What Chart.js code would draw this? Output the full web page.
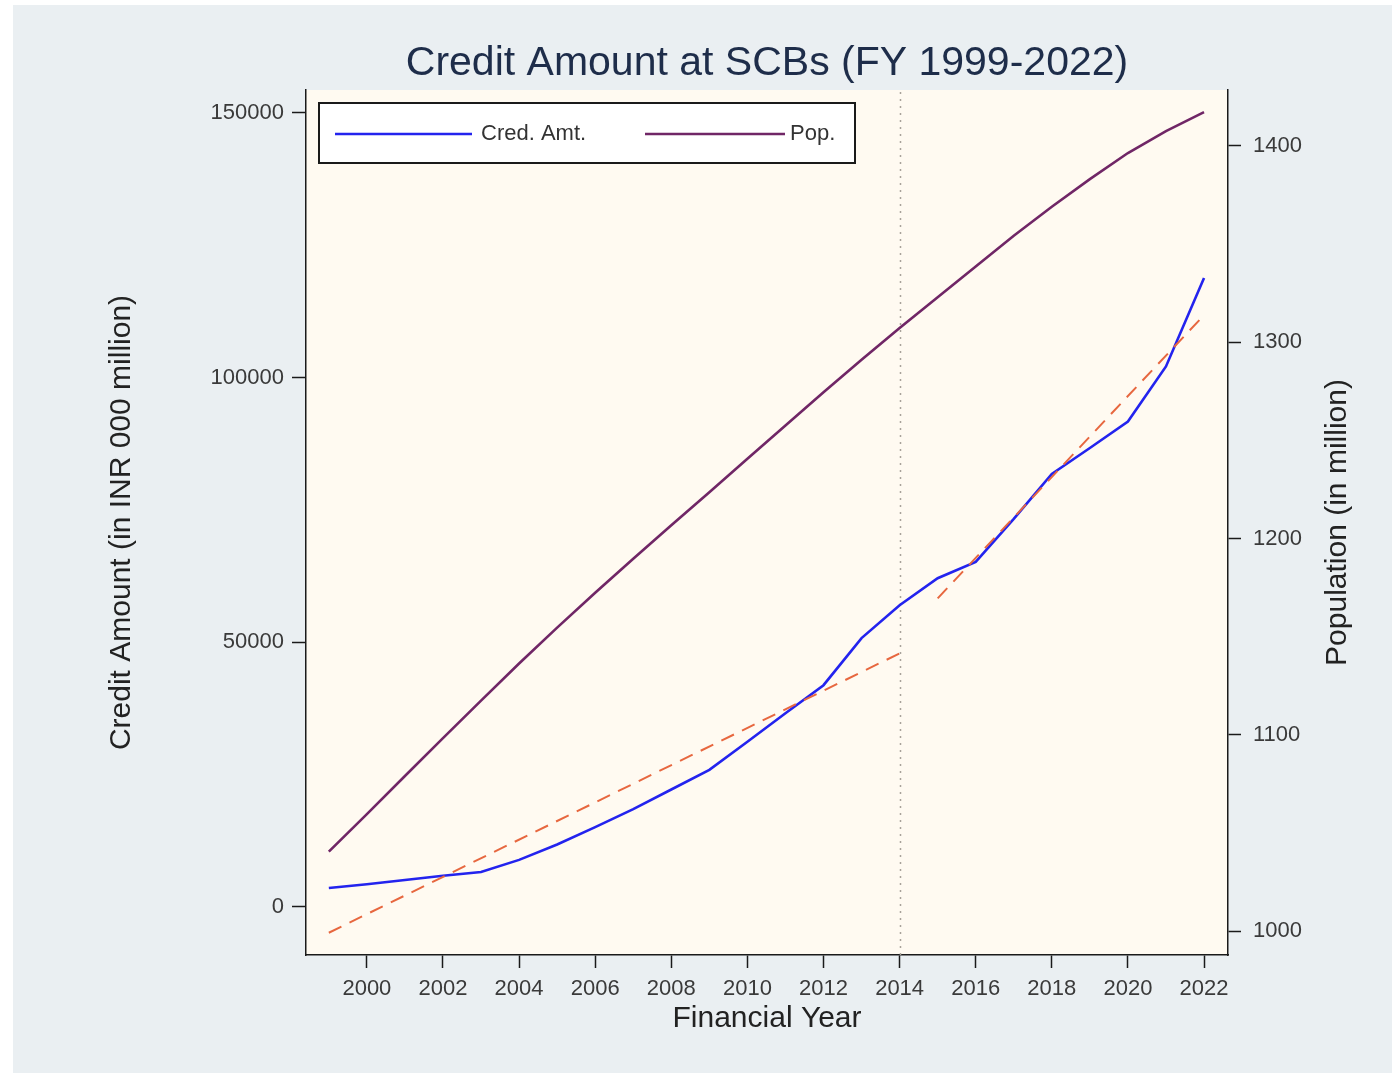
<!DOCTYPE html>
<html>
<head>
<meta charset="utf-8">
<title>Credit Amount at SCBs (FY 1999-2022)</title>
<script src="https://cdn.jsdelivr.net/npm/chart.js@4.4.1/dist/chart.umd.min.js"></script>
<style>
  html, body { margin: 0; padding: 0; background: #ffffff; }
  #wrap { width: 1392px; height: 1073px; }
  canvas { display: block; }
</style>
</head>
<body>
<div id="wrap"><canvas id="chart" width="1392" height="1073"></canvas></div>
<script>
// Financial years on the x axis
const years = [1999, 2000, 2001, 2002, 2003, 2004, 2005, 2006, 2007, 2008, 2009, 2010,
               2011, 2012, 2013, 2014, 2015, 2016, 2017, 2018, 2019, 2020, 2021, 2022];

// Credit outstanding at scheduled commercial banks (INR 000 million)
const creditAmt = [3600, 4300, 5100, 5900, 6600, 8900, 11800, 15100, 18500, 22200, 25900, 31200,
                   36600, 41900, 50800, 57000, 62100, 65200, 73300, 81800, 86700, 91700, 102100, 118800];

// Population (in million)
const population = [1040.5, 1059.6, 1079.0, 1098.3, 1117.4, 1136.3, 1154.6, 1172.4, 1189.7, 1206.7, 1223.6, 1240.6,
                    1257.6, 1274.5, 1291.1, 1307.2, 1322.9, 1338.6, 1354.2, 1369.0, 1383.1, 1396.4, 1407.6, 1417.2];

// Linear trend of credit before and after the 2014 break
const trendYearsPre = [1999, 2014];
const trendPre = [-4860, 47900];
const trendYearsPost = [2015, 2022];
const trendPost = [58300, 111800];

// Axis ticks
const yearTicks = [2000, 2002, 2004, 2006, 2008, 2010, 2012, 2014, 2016, 2018, 2020, 2022];
const creditTicks = [0, 50000, 100000, 150000];
const popTicks = [1000, 1100, 1200, 1300, 1400];

const breakYear = 2014;
const chartTitle = 'Credit Amount at SCBs (FY 1999-2022)';

const FONT = "'Liberation Sans', Arial, Helvetica, sans-serif";
Chart.defaults.font.family = FONT;

const pts = (xs, ys) => xs.map((x, i) => ({ x: x, y: ys[i] }));

// Page backdrop: outer graph region and cream plot region
const backdrop = {
  id: 'backdrop',
  beforeDraw(chart) {
    const { ctx, chartArea: a, width, height } = chart;
    ctx.save();
    ctx.fillStyle = '#ffffff';
    ctx.fillRect(0, 0, width, height);
    ctx.fillStyle = '#eaeff2';
    ctx.fillRect(13, 5, width - 13, height - 5);
    ctx.fillStyle = '#fffaf1';
    ctx.fillRect(a.left, a.top, a.right - a.left, a.bottom - a.top);
    ctx.restore();
  }
};

// Chart title, centred over the plot region
const plotTitle = {
  id: 'plotTitle',
  afterDraw(chart) {
    const { ctx, chartArea: a } = chart;
    ctx.save();
    ctx.fillStyle = '#1e2d4a';
    ctx.font = '41px ' + FONT;
    ctx.textAlign = 'center';
    ctx.textBaseline = 'middle';
    ctx.fillText(chartTitle, (a.left + a.right) / 2, 64);
    ctx.restore();
  }
};

// Dotted vertical marker at the break year
const breakLine = {
  id: 'breakLine',
  beforeDatasetsDraw(chart) {
    const { ctx, chartArea: a, scales } = chart;
    const x = Math.round(scales.x.getPixelForValue(breakYear)) + 0.5;
    ctx.save();
    ctx.strokeStyle = '#a8a29a';
    ctx.lineWidth = 1.5;
    ctx.setLineDash([2, 5]);
    ctx.beginPath();
    ctx.moveTo(x, a.top + 2);
    ctx.lineTo(x, a.bottom);
    ctx.stroke();
    ctx.restore();
  }
};

// Boxed legend inside the plot region
const boxLegend = {
  id: 'boxLegend',
  afterDraw(chart) {
    const { ctx, chartArea: a } = chart;
    const items = chart.data.datasets.filter(d => d.inLegend);
    const bx = a.left + 13, by = a.top + 13, bw = 536, bh = 60;
    ctx.save();
    ctx.fillStyle = '#ffffff';
    ctx.fillRect(bx, by, bw, bh);
    ctx.strokeStyle = '#1a1a1a';
    ctx.lineWidth = 2;
    ctx.strokeRect(bx, by, bw, bh);
    const slots = [{ x0: 16, x1: 153, tx: 162 }, { x0: 326, x1: 466, tx: 471 }];
    const cy = by + 31;
    items.forEach((d, i) => {
      const s = slots[i];
      ctx.strokeStyle = d.borderColor;
      ctx.lineWidth = 2.5;
      ctx.beginPath();
      ctx.moveTo(bx + s.x0, cy);
      ctx.lineTo(bx + s.x1, cy);
      ctx.stroke();
      ctx.fillStyle = '#333333';
      ctx.font = '22px ' + FONT;
      ctx.textBaseline = 'middle';
      ctx.textAlign = 'left';
      ctx.fillText(d.label, bx + s.tx, cy);
    });
    ctx.restore();
  }
};

// Right axis title, reading bottom to top
const rightTitle = {
  id: 'rightTitle',
  afterDraw(chart) {
    const { ctx, chartArea: a } = chart;
    ctx.save();
    ctx.translate(1338, (a.top + a.bottom) / 2);
    ctx.rotate(-Math.PI / 2);
    ctx.fillStyle = '#222222';
    ctx.font = '30px ' + FONT;
    ctx.textAlign = 'center';
    ctx.textBaseline = 'middle';
    ctx.fillText('Population (in million)', 0, 0);
    ctx.restore();
  }
};

const axisBorder = { display: true, color: '#1a1a1a', width: 1.5 };
const tickFont = { size: 22 };

new Chart(document.getElementById('chart'), {
  type: 'line',
  data: {
    datasets: [
      {
        label: 'Trend 1999-2014',
        data: pts(trendYearsPre, trendPre),
        yAxisID: 'y',
        borderColor: '#e7673f',
        borderWidth: 2,
        borderDash: [14, 9],
        pointRadius: 0,
        order: 0
      },
      {
        label: 'Trend 2015-2022',
        data: pts(trendYearsPost, trendPost),
        yAxisID: 'y',
        borderColor: '#e7673f',
        borderWidth: 2,
        borderDash: [14, 9],
        pointRadius: 0,
        order: 0
      },
      {
        label: 'Cred. Amt.',
        inLegend: true,
        data: pts(years, creditAmt),
        yAxisID: 'y',
        borderColor: '#2323ee',
        borderWidth: 2.6,
        pointRadius: 0,
        tension: 0,
        order: 1
      },
      {
        label: 'Pop.',
        inLegend: true,
        data: pts(years, population),
        yAxisID: 'y1',
        borderColor: '#702666',
        borderWidth: 2.6,
        pointRadius: 0,
        tension: 0,
        order: 2
      }
    ]
  },
  options: {
    responsive: false,
    animation: false,
    devicePixelRatio: 1,
    layout: { padding: { top: 90, left: 0, right: 0, bottom: 0 } },
    plugins: {
      legend: { display: false },
      tooltip: { enabled: false },
      title: { display: false }
    },
    scales: {
      x: {
        type: 'linear',
        position: 'bottom',
        min: 1998.4,
        max: 2022.63,
        afterBuildTicks: s => { s.ticks = yearTicks.map(v => ({ value: v })); },
        afterFit: s => { s.height = 118; },
        ticks: { font: tickFont, color: '#3a3a3a', padding: 8, maxRotation: 0, autoSkip: false,
                 callback: v => String(v) },
        grid: { drawOnChartArea: false, drawTicks: true, tickLength: 13, tickColor: '#1a1a1a', tickWidth: 1.5 },
        border: axisBorder,
        title: { display: true, text: 'Financial Year', color: '#222222',
                 font: { size: 30 }, padding: { top: 0, bottom: 36 } }
      },
      y: {
        type: 'linear',
        position: 'left',
        min: -9067,
        max: 154325,
        afterBuildTicks: s => { s.ticks = creditTicks.map(v => ({ value: v })); },
        afterFit: s => { s.width = 306; },
        ticks: { font: tickFont, color: '#3a3a3a', padding: 8, callback: v => String(v) },
        grid: { drawOnChartArea: false, drawTicks: true, tickLength: 14, tickColor: '#1a1a1a', tickWidth: 1.5 },
        border: axisBorder,
        title: { display: true, text: 'Credit Amount (in INR 000 million)', color: '#222222',
                 font: { size: 30 }, padding: { top: 104, bottom: 0 } }
      },
      y1: {
        type: 'linear',
        position: 'right',
        min: 987.8,
        max: 1428.5,
        afterBuildTicks: s => { s.ticks = popTicks.map(v => ({ value: v })); },
        afterFit: s => { s.width = 164; },
        ticks: { font: tickFont, color: '#3a3a3a', padding: 12, callback: v => String(v) },
        grid: { drawOnChartArea: false, drawTicks: true, tickLength: 13, tickColor: '#1a1a1a', tickWidth: 1.5 },
        border: axisBorder
      }
    }
  },
  plugins: [backdrop, breakLine, boxLegend, rightTitle, plotTitle]
});
</script>
</body>
</html>
